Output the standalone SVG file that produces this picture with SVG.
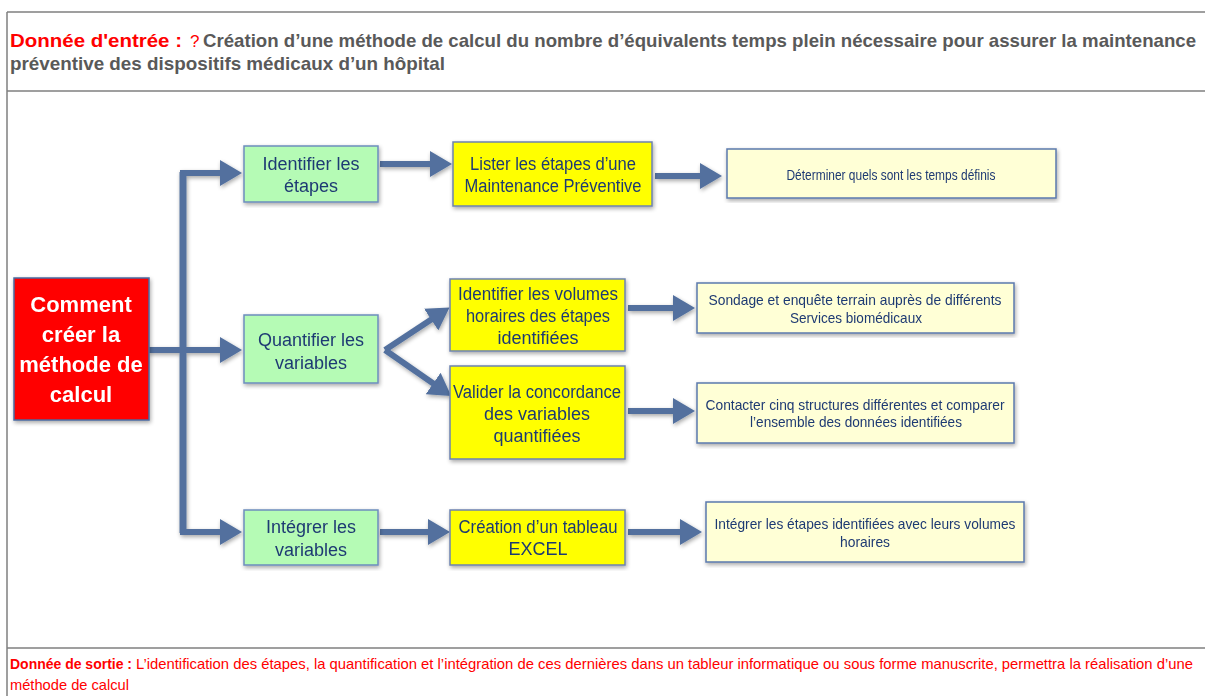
<svg xmlns="http://www.w3.org/2000/svg" width="1205" height="696" viewBox="0 0 1205 696">
<style>
.frame{stroke:#7f7f7f;stroke-width:1.5;fill:none}
.t{font-family:"Liberation Sans",Arial,sans-serif}
.title{font-size:18.5px;font-weight:bold;fill:#595959}
.red{fill:#ff0000}
.bx{font-size:18px;fill:#1f3a73;text-anchor:middle}
.sm{font-size:15px;fill:#1f3a73;text-anchor:middle}
.green{fill:#b5fbb5;stroke:#6d8dbd;stroke-width:1.5}
.yel{fill:#ffff00;stroke:#6d82b0;stroke-width:1.5}
.lyel{fill:#ffffd6;stroke:#5b79ad;stroke-width:1.5}
.root{fill:#ff0000;stroke:#4a6aa0;stroke-width:1.5}
.wt{font-size:22px;font-weight:bold;fill:#ffffff;text-anchor:middle}
.c{stroke:#52709e;stroke-width:6;fill:none;marker-end:url(#ah)}
.cn{stroke:#52709e;stroke-width:7;fill:none}
</style>
<defs>
<marker id="ah" markerUnits="userSpaceOnUse" markerWidth="22" markerHeight="26" viewBox="0 0 22 26" refX="1" refY="13" orient="auto">
<path d="M0,0 L22,13 L0,26 Z" fill="#52709e"/>
</marker>
<filter id="sh" x="-10%" y="-10%" width="120%" height="120%">
<feGaussianBlur in="SourceAlpha" stdDeviation="2"/>
<feOffset dx="1" dy="2" result="b"/>
<feComponentTransfer><feFuncA type="linear" slope="0.35"/></feComponentTransfer>
<feMerge><feMergeNode/><feMergeNode in="SourceGraphic"/></feMerge>
</filter>
</defs>
<rect width="1205" height="696" fill="#ffffff"/>
<g id="frame">
<line class="frame" x1="7" y1="12" x2="1205" y2="12"/>
<line class="frame" x1="7" y1="12" x2="7" y2="696"/>
<line class="frame" x1="7" y1="91" x2="1205" y2="91" stroke="#555"/>
<line class="frame" x1="7" y1="648" x2="1205" y2="648" stroke="#555"/>
</g>
<g id="header">
<text class="t title red" x="10" y="47" textLength="172" lengthAdjust="spacingAndGlyphs">Donnée d'entrée :</text>
<text class="t" x="190" y="47" font-size="17" fill="#ff0000">?</text>
<text class="t title" x="203" y="47" textLength="993" lengthAdjust="spacingAndGlyphs">Création d’une méthode de calcul du nombre d’équivalents temps plein nécessaire pour assurer la maintenance</text>
<text class="t title" x="10" y="70" textLength="435" lengthAdjust="spacingAndGlyphs">préventive des dispositifs médicaux d’un hôpital</text>
</g>
<g id="connectors" filter="url(#sh)">
<line class="cn" x1="183" y1="172" x2="183" y2="533"/>
<line class="c" x1="180" y1="173" x2="221" y2="173"/>
<line class="c" x1="148" y1="350" x2="221" y2="350"/>
<line class="c" x1="180" y1="532" x2="221" y2="532"/>
<line class="c" x1="380" y1="164" x2="431" y2="164"/>
<line class="c" x1="655" y1="176" x2="701" y2="176"/>
<line class="c" x1="385" y1="350" x2="432" y2="319"/>
<line class="c" x1="385" y1="350" x2="434" y2="384"/>
<line class="c" x1="628" y1="308" x2="674" y2="308"/>
<line class="c" x1="628" y1="411" x2="674" y2="411"/>
<line class="c" x1="380" y1="532" x2="429" y2="532"/>
<line class="c" x1="628" y1="532" x2="681" y2="532"/>
</g>
<g id="n-root" filter="url(#sh)">
<rect class="root" x="14" y="278" width="135" height="142"/>
<text class="t wt" x="81" y="312">Comment</text>
<text class="t wt" x="81" y="342">créer la</text>
<text class="t wt" x="81" y="372">méthode de</text>
<text class="t wt" x="81" y="402">calcul</text>
</g>
<g id="n-identifier" filter="url(#sh)">
<rect class="green" x="244" y="146" width="134" height="56"/>
<text class="t bx" x="311" y="170">Identifier les</text>
<text class="t bx" x="311" y="192">étapes</text>
</g>
<g id="n-quantifier" filter="url(#sh)">
<rect class="green" x="244" y="315" width="134" height="68"/>
<text class="t bx" x="311" y="346">Quantifier les</text>
<text class="t bx" x="311" y="369">variables</text>
</g>
<g id="n-integrer" filter="url(#sh)">
<rect class="green" x="244" y="510" width="134" height="55"/>
<text class="t bx" x="311" y="533">Intégrer les</text>
<text class="t bx" x="311" y="556">variables</text>
</g>
<g id="n-lister" filter="url(#sh)">
<rect class="yel" x="453" y="142" width="199" height="64"/>
<text class="t bx" x="553" y="170" textLength="166" lengthAdjust="spacingAndGlyphs">Lister les étapes d’une</text>
<text class="t bx" x="553" y="192" textLength="177" lengthAdjust="spacingAndGlyphs">Maintenance Préventive</text>
</g>
<g id="n-volumes" filter="url(#sh)">
<rect class="yel" x="450" y="279" width="175" height="72"/>
<text class="t bx" x="538" y="300" textLength="160" lengthAdjust="spacingAndGlyphs">Identifier les volumes</text>
<text class="t bx" x="538" y="322" textLength="144" lengthAdjust="spacingAndGlyphs">horaires des étapes</text>
<text class="t bx" x="538" y="344">identifiées</text>
</g>
<g id="n-valider" filter="url(#sh)">
<rect class="yel" x="450" y="366" width="175" height="93"/>
<text class="t bx" x="537" y="398" textLength="168" lengthAdjust="spacingAndGlyphs">Valider la concordance</text>
<text class="t bx" x="537" y="420">des variables</text>
<text class="t bx" x="537" y="442">quantifiées</text>
</g>
<g id="n-excel" filter="url(#sh)">
<rect class="yel" x="450" y="510" width="175" height="55"/>
<text class="t bx" x="538" y="533" textLength="159" lengthAdjust="spacingAndGlyphs">Création d’un tableau</text>
<text class="t bx" x="538" y="555">EXCEL</text>
</g>
<g id="n-temps" filter="url(#sh)">
<rect class="lyel" x="727" y="149" width="329" height="49"/>
<text class="t sm" x="891" y="180" textLength="209" lengthAdjust="spacingAndGlyphs">Déterminer quels sont les temps définis</text>
</g>
<g id="n-sondage" filter="url(#sh)">
<rect class="lyel" x="697" y="283" width="317" height="50"/>
<text class="t sm" x="855" y="305" textLength="293" lengthAdjust="spacingAndGlyphs">Sondage et enquête terrain auprès de différents</text>
<text class="t sm" x="856" y="323" textLength="132" lengthAdjust="spacingAndGlyphs">Services biomédicaux</text>
</g>
<g id="n-contacter" filter="url(#sh)">
<rect class="lyel" x="697" y="383" width="317" height="60"/>
<text class="t sm" x="855" y="410" textLength="299" lengthAdjust="spacingAndGlyphs">Contacter cinq structures différentes et comparer</text>
<text class="t sm" x="856" y="427" textLength="212" lengthAdjust="spacingAndGlyphs">l’ensemble des données identifiées</text>
</g>
<g id="n-integrer-etapes" filter="url(#sh)">
<rect class="lyel" x="706" y="502" width="318" height="60"/>
<text class="t sm" x="865" y="529" textLength="301" lengthAdjust="spacingAndGlyphs">Intégrer les étapes identifiées avec leurs volumes</text>
<text class="t sm" x="865" y="547" textLength="50" lengthAdjust="spacingAndGlyphs">horaires</text>
</g>
<g id="footer">
<text class="t red" x="10" y="669" font-size="15" font-weight="bold" textLength="122" lengthAdjust="spacingAndGlyphs">Donnée de sortie :</text>
<text class="t red" x="136" y="669" font-size="14.5" textLength="1057" lengthAdjust="spacingAndGlyphs">L’identification des étapes, la quantification et l’intégration de ces dernières dans un tableur informatique ou sous forme manuscrite, permettra la réalisation d’une</text>
<text class="t red" x="10" y="690" font-size="15" textLength="119" lengthAdjust="spacingAndGlyphs">méthode de calcul</text>
</g>
</svg>
